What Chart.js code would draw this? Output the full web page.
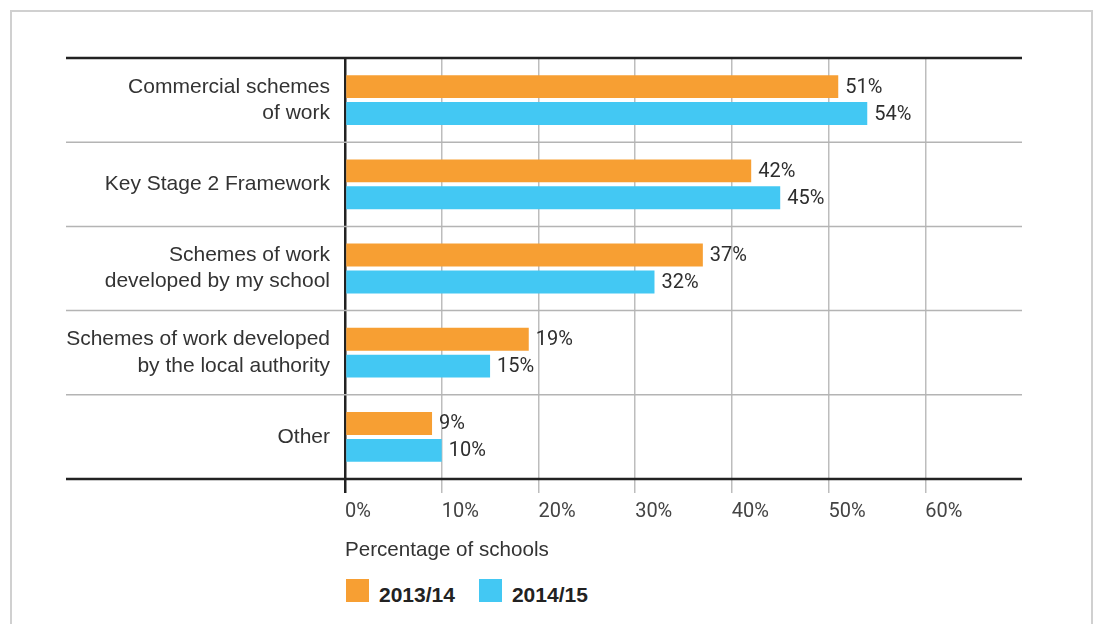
<!DOCTYPE html>
<html>
<head>
<meta charset="utf-8">
<script src="https://cdn.jsdelivr.net/npm/chart.js@4/dist/chart.umd.min.js"></script>
<style>
  body { margin: 0; background: #fff; font-family: "Liberation Sans", Arial, sans-serif; }
  #frame { position: absolute; left: 10px; top: 10px; width: 1079px; height: 700px; border: 2px solid #d0d0d0; }
  #wrap { position: absolute; left: 0; top: 0; width: 1096px; height: 570px; }
  #legend { position: absolute; left: 346px; top: 579px; display: flex; align-items: flex-start; }
  .item { display: flex; align-items: flex-start; margin-right: 24px; }
  .swatch { width: 23px; height: 23px; margin-right: 10px; }
  .item span { font-weight: bold; font-size: 21px; line-height: 23px; padding-top: 4px; color: #222; }
</style>
</head>
<body>
<div id="frame"></div>
<div id="wrap"><canvas id="chart"></canvas></div>
<div id="legend"></div>
<script>
// Data
const categories = [
  ["Commercial schemes", "of work"],
  ["Key Stage 2 Framework"],
  ["Schemes of work", "developed by my school"],
  ["Schemes of work developed", "by the local authority"],
  ["Other"]
];
const seriesNames = ["2013/14", "2014/15"];
const values2013 = [51, 42, 37, 19, 9];
const values2014 = [54, 45, 32, 15, 10];
const xTicks = [0, 10, 20, 30, 40, 50, 60];

const colors = ["#F79F33", "#43C8F3"];
const numFont = "Roboto, 'Liberation Sans', Arial, sans-serif";
const textFont = "'Liberation Sans', Arial, sans-serif";

// Category separators, top and bottom rules
const rulesPlugin = {
  id: "rules",
  afterDraw(chart) {
    const ctx = chart.ctx;
    const y = chart.scales.y;
    const area = chart.chartArea;
    const n = categories.length;
    const edges = [area.top];
    for (let i = 0; i < n - 1; i++) {
      edges.push((y.getPixelForValue(i) + y.getPixelForValue(i + 1)) / 2);
    }
    edges.push(area.bottom);
    ctx.save();
    edges.forEach((py, i) => {
      const outer = i === 0 || i === edges.length - 1;
      ctx.beginPath();
      ctx.strokeStyle = outer ? "#222" : "#b4b4b4";
      ctx.lineWidth = outer ? 2.5 : 1.5;
      ctx.moveTo(66, py);
      ctx.lineTo(area.right, py);
      ctx.stroke();
    });
    ctx.restore();
  }
};

// Value labels at bar ends
const valueLabels = {
  id: "valueLabels",
  afterDatasetsDraw(chart) {
    const ctx = chart.ctx;
    ctx.save();
    ctx.font = "20px " + numFont;
    ctx.fillStyle = "#2e2e2e";
    ctx.textBaseline = "middle";
    ctx.textAlign = "left";
    chart.data.datasets.forEach((ds, di) => {
      chart.getDatasetMeta(di).data.forEach((bar, i) => {
        ctx.fillText(ds.data[i] + "%", bar.x + 7, bar.y + 1);
      });
    });
    ctx.restore();
  }
};

new Chart(document.getElementById("chart"), {
  type: "bar",
  data: {
    labels: categories,
    datasets: [
      { label: seriesNames[0], data: values2013, backgroundColor: colors[0] },
      { label: seriesNames[1], data: values2014, backgroundColor: colors[1] }
    ]
  },
  options: {
    indexAxis: "y",
    responsive: true,
    maintainAspectRatio: false,
    animation: false,
    categoryPercentage: 0.64,
    barPercentage: 0.85,
    layout: { padding: { top: 58, right: 74, bottom: 0, left: 0 } },
    plugins: { legend: { display: false }, tooltip: { enabled: false } },
    scales: {
      x: {
        min: 0,
        max: 70,
        afterFit: (scale) => { scale.height = 91; },
        afterBuildTicks: (scale) => {
          scale.ticks = xTicks.concat([70]).map(v => ({ value: v }));
        },
        border: { display: false },
        grid: {
          tickLength: 14,
          color: (c) => c.tick && c.tick.value === 0 ? "#222" : (c.tick && c.tick.value > 60 ? "rgba(0,0,0,0)" : "#bdbdbd"),
          lineWidth: (c) => c.tick && c.tick.value === 0 ? 2.5 : 1.5
        },
        ticks: {
          align: "start",
          padding: 7,
          color: "#444",
          font: { family: numFont, size: 20 },
          callback: (v) => v <= 60 ? v + "%" : ""
        },
        title: {
          display: true,
          text: "Percentage of schools",
          align: "start",
          color: "#333",
          font: { family: textFont, size: 20.6 },
          padding: { top: 0, bottom: 7 }
        }
      },
      y: {
        afterFit: (scale) => { scale.width = 345; },
        border: { display: false },
        grid: { display: false },
        ticks: {
          padding: 7,
          color: "#333",
          font: { family: textFont, size: 21, lineHeight: 1.24 }
        }
      }
    }
  },
  plugins: [rulesPlugin, valueLabels]
});

// Legend
const legend = document.getElementById("legend");
seriesNames.forEach((name, i) => {
  const item = document.createElement("div");
  item.className = "item";
  item.innerHTML = '<div class="swatch" style="background:' + colors[i] + '"></div><span>' + name + '</span>';
  legend.appendChild(item);
});
</script>
</body>
</html>
